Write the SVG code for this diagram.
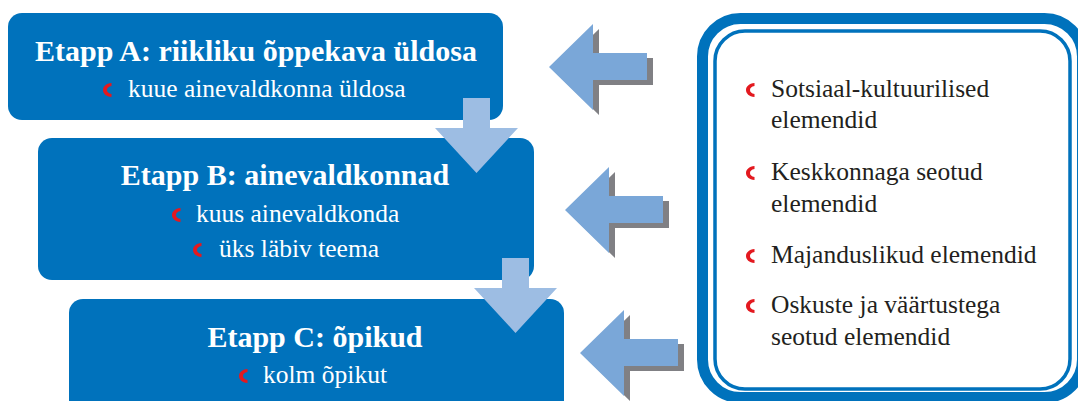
<svg xmlns="http://www.w3.org/2000/svg" xmlns:xlink="http://www.w3.org/1999/xlink" width="1078" height="401" viewBox="0 0 1078 401">
<style>
.box{fill:#0072bc}
.ttl{font-family:"Liberation Serif",serif;font-weight:bold;font-size:30px;fill:#ffffff;text-anchor:middle}
.sub{font-family:"Liberation Serif",serif;font-size:25.5px;fill:#ffffff}
.pt{font-family:"Liberation Serif",serif;font-size:25.5px;fill:#231f20}
.bul{fill:#e3191f}
.down{fill:#9dbde3}
.left{fill:#7aa7d8}
.shadow{fill:#808084}
</style>
<defs>
<path id="bul" d="M8.5,-14 C3,-13.5 0,-10.5 0,-7 C0,-3.5 3,-0.5 8.5,0 L8.5,-3 C5.5,-3.5 4,-5 4,-7 C4,-9 5.5,-10.5 8.5,-11 Z"/>
<path id="larrow" d="M0,0 L44,-43 L44,-14 L98,-14 L98,13 L44,13 L44,43 Z"/>
<path id="darrow" d="M0,0 L27,0 L27,30 L55,30 L13.5,75 L-28,30 L0,30 Z"/>
</defs>
<rect width="1078" height="401" fill="#ffffff"/>
<g id="boxA">
<rect class="box" x="8" y="13" width="495" height="107" rx="14"/>
<text class="ttl" x="256" y="61">Etapp A: riikliku õppekava üldosa</text>
<use href="#bul" class="bul" x="103" y="97"/>
<text class="sub" x="128" y="97">kuue ainevaldkonna üldosa</text>
</g>
<g id="boxB">
<rect class="box" x="38" y="138" width="496" height="142" rx="14"/>
<text class="ttl" x="285" y="185">Etapp B: ainevaldkonnad</text>
<use href="#bul" class="bul" x="172" y="222"/>
<text class="sub" x="196" y="222">kuus ainevaldkonda</text>
<use href="#bul" class="bul" x="193" y="257"/>
<text class="sub" x="219" y="257">üks läbiv teema</text>
</g>
<g id="boxC">
<rect class="box" x="69" y="299" width="495" height="130" rx="14"/>
<text class="ttl" x="315" y="347">Etapp C: õpikud</text>
<use href="#bul" class="bul" x="239" y="383"/>
<text class="sub" x="263" y="383">kolm õpikut</text>
</g>
<g id="panel">
<rect x="702.5" y="18.5" width="380" height="379" rx="38" fill="#ffffff" stroke="#0072bc" stroke-width="11"/>
<rect x="715" y="31" width="355" height="358" rx="30" fill="none" stroke="#0072bc" stroke-width="3.5"/>
<use href="#bul" class="bul" x="746" y="97"/>
<text class="pt" x="771" y="97">Sotsiaal-kultuurilised</text>
<text class="pt" x="771" y="128">elemendid</text>
<use href="#bul" class="bul" x="746" y="180"/>
<text class="pt" x="771" y="180">Keskkonnaga seotud</text>
<text class="pt" x="771" y="212">elemendid</text>
<use href="#bul" class="bul" x="746" y="263"/>
<text class="pt" x="771" y="263">Majanduslikud elemendid</text>
<use href="#bul" class="bul" x="746" y="313"/>
<text class="pt" x="771" y="313">Oskuste ja väärtustega</text>
<text class="pt" x="771" y="345">seotud elemendid</text>
</g>
<g id="connectors">
<use href="#darrow" class="down" x="463" y="98"/>
<use href="#darrow" class="down" x="502" y="258"/>
<use href="#larrow" class="shadow" x="555" y="72"/>
<use href="#larrow" class="left" x="549" y="67"/>
<use href="#larrow" class="shadow" x="571" y="215"/>
<use href="#larrow" class="left" x="565" y="210"/>
<use href="#larrow" class="shadow" x="586" y="358"/>
<use href="#larrow" class="left" x="580" y="353"/>
</g>
</svg>
